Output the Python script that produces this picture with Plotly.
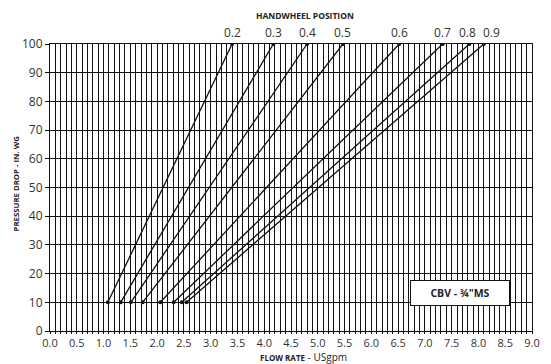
import plotly.graph_objects as go

positions = ["0.2", "0.3", "0.4", "0.5", "0.6", "0.7", "0.8", "0.9"]
flow_at_10 = [1.08, 1.32, 1.51, 1.73, 2.06, 2.31, 2.46, 2.55]
flow_at_100 = [3.40, 4.17, 4.80, 5.47, 6.52, 7.33, 7.83, 8.10]
pressure = [10, 100]
x_ticks = [i * 0.5 for i in range(19)]
x_tick_labels = [f"{v:.1f}" for v in x_ticks]
y_ticks = list(range(0, 101, 10))
label_shift = {"0.8": -2, "0.9": 8}

fig = go.Figure()
for name, f10, f100 in zip(positions, flow_at_10, flow_at_100):
    fig.add_trace(go.Scatter(
        x=[f10, f100], y=pressure, mode="lines+markers", name=name,
        line=dict(color="#111", width=1.3),
        marker=dict(color="#111", size=4),
        showlegend=False, hoverinfo="skip"))
    fig.add_annotation(x=f100, y=100, text=name, showarrow=False,
                       yanchor="bottom", yshift=1, xshift=label_shift.get(name, 0),
                       xref="x", yref="y",
                       font=dict(family="Open Sans", size=12, color="#333"))

fig.add_annotation(x=0.5, y=1, xref="paper", yref="paper", yanchor="bottom",
                   xanchor="center", yshift=21, xshift=14, showarrow=False,
                   text="<b>HANDWHEEL POSITION</b>",
                   font=dict(family="Open Sans", size=8.5, color="#222"))
fig.add_annotation(x=0.5, y=0, xref="paper", yref="paper", yanchor="top",
                   xanchor="center", yshift=-18, xshift=12, showarrow=False,
                   borderpad=0,
                   text="<b><span style='font-size:8px'>FLOW RATE</span></b> - USgpm",
                   font=dict(family="Open Sans", size=10, color="#222"))
fig.add_annotation(x=0, y=0.5, xref="paper", yref="paper", xanchor="center",
                   xshift=-35, yshift=4, showarrow=False, textangle=-90,
                   text="<b>PRESSURE DROP - IN. WG</b>",
                   font=dict(family="Open Sans", size=7.8, color="#222"))
fig.add_annotation(x=0.85, y=0.132, xref="paper", yref="paper",
                   xanchor="center", yanchor="middle",
                   showarrow=False, bgcolor="white", bordercolor="#111",
                   borderwidth=1, borderpad=5, width=88,
                   text="<b>CBV - ¾\"MS</b>",
                   font=dict(family="Open Sans", size=10.5, color="#222"))

fig.update_xaxes(range=[0, 9], tickvals=x_ticks, ticktext=x_tick_labels,
                 showgrid=True, gridcolor="#111", gridwidth=1.3,
                 ticks="outside", ticklen=2, tickcolor="#111",
                 minor=dict(dtick=0.1, tick0=0, showgrid=True, gridcolor="#111",
                            gridwidth=1.3, ticks="outside", ticklen=2, tickcolor="#111"),
                 showline=True, linecolor="#111", linewidth=1, mirror=True,
                 zeroline=False,
                 tickfont=dict(family="Open Sans", size=11, color="#333"))
fig.update_yaxes(range=[0, 100], tickvals=y_ticks,
                 showgrid=True, gridcolor="#111", gridwidth=1.3,
                 ticks="outside", ticklen=4, tickcolor="#111",
                 showline=True, linecolor="#111", linewidth=1, mirror=True,
                 zeroline=False,
                 tickfont=dict(family="Open Sans", size=12, color="#333"))
fig.update_layout(width=543, height=356, margin=dict(l=42, r=11, t=36, b=33),
                  plot_bgcolor="white", paper_bgcolor="white")
fig.write_html("out.html")
